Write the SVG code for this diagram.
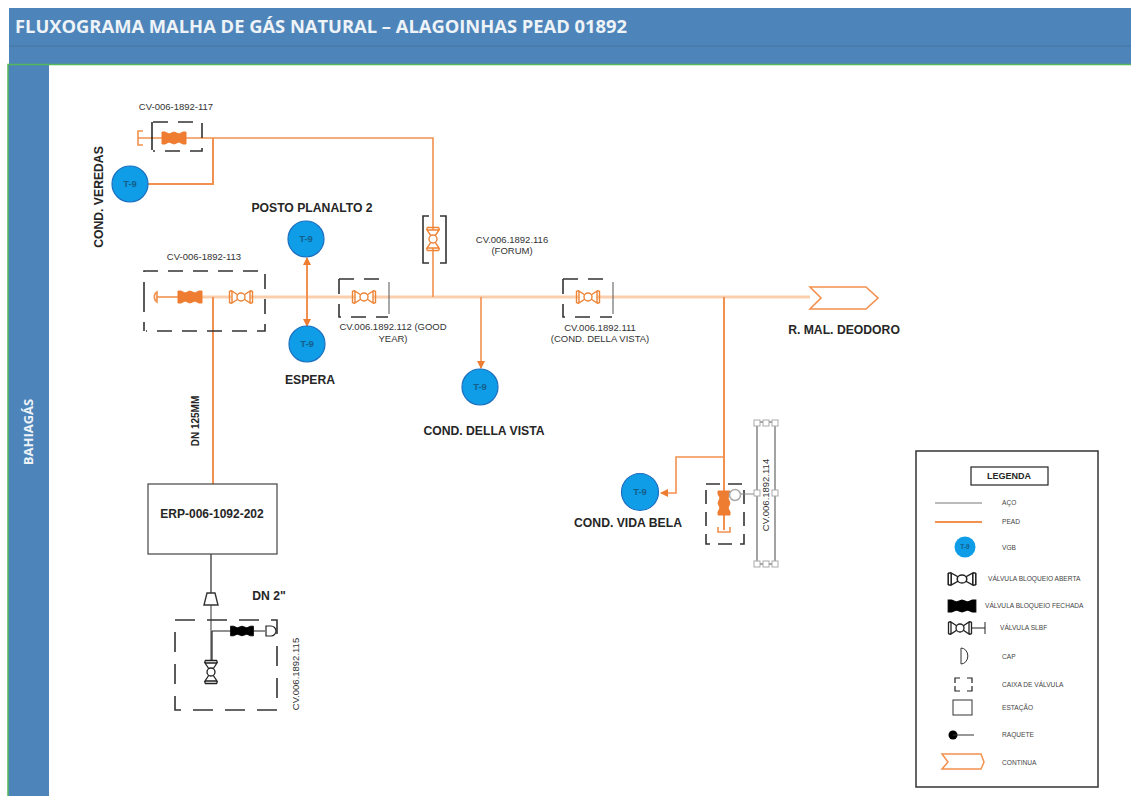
<svg xmlns="http://www.w3.org/2000/svg" xmlns:xlink="http://www.w3.org/1999/xlink" width="1131" height="796" viewBox="0 0 1131 796">
<style>
text{font-family:"Liberation Sans",Arial,sans-serif;fill:#262626}
.t{font-size:12.200px;font-weight:bold;text-anchor:middle}
.s{font-size:9.500px;text-anchor:middle;fill:#333}
.l{font-size:6.600px;fill:#444}
.n{font-size:9.500px;font-weight:bold;text-anchor:middle;fill:#14608a}
.box{fill:none;stroke:#333;stroke-width:1.6;stroke-dasharray:15 10}
.main{fill:none;stroke:#fbcfae;stroke-width:3}
.or{fill:none;stroke:#f2914f;stroke-width:1.6}
.vo{fill:#fff;stroke:#ee8436;stroke-width:1.4}
.vc{fill:#ee7d31;stroke:#ee7d31;stroke-width:1}
.vok{fill:#fff;stroke:#222;stroke-width:1.3}
.vck{fill:#000;stroke:#000;stroke-width:1}
.cir{fill:#0f9de8;stroke:#1c6fc0;stroke-width:1.2}
.h{fill:#fff;stroke:#aaa;stroke-width:1}
</style>
<defs>
<g id="valve"><path d="M-9-6L9 6V-6L-9 6Z"/><path d="M-11.500-6V6M11.500-6V6M-11.500-6H-9M-11.500 6H-9M11.500-6H9M11.500 6H9" fill="none"/><circle r="4"/></g>
<g id="closed"><path d="M-12-6H-9L-5-4L0-6L5-4L9-6H12V6H9L5 4L0 6L-5 4L-9 6H-12Z"/></g>
<marker id="ah" markerWidth="8" markerHeight="8" refX="7" refY="4" orient="auto-start-reverse" markerUnits="userSpaceOnUse"><path d="M0 0L8 4L0 8Z" fill="#ee7d31"/></marker>
</defs>
<g id="frame">
<rect x="9" y="8" width="1122" height="57" fill="#4d85ba"/>
<path d="M9 46H1131" stroke="#44749f" stroke-width="1"/>
<rect x="8" y="65" width="41" height="731" fill="#4d85ba"/>
<path d="M8 796V64.500H1131" fill="none" stroke="#55b75a" stroke-width="1.500"/>
<text x="15" y="33" style="font-size:18px;font-weight:bold;fill:#eef3f8;font-family:'Open Sans',sans-serif" textLength="612" lengthAdjust="spacingAndGlyphs">FLUXOGRAMA MALHA DE GÁS NATURAL – ALAGOINHAS PEAD 01892</text>
<text transform="translate(33 432) rotate(-90)" style="font-size:13px;font-weight:bold;fill:#eef3f8;text-anchor:middle;font-family:'Open Sans',sans-serif">BAHIAGÁS</text>
</g>
<g id="connectors">
<path class="main" d="M190 297H810"/>
<path class="or" d="M156 297H180"/>
<path class="or" d="M138 138H433V297"/>
<path class="or" style="stroke-width:2" d="M148 184H213V138"/>
<path class="or" style="stroke-width:2" d="M213 297V484"/>
<path class="or" style="stroke-width:2" marker-start="url(#ah)" marker-end="url(#ah)" d="M307 258V326"/>
<path class="or" marker-end="url(#ah)" d="M481 297V368"/>
<path class="or" style="stroke-width:2" d="M724 297V530"/>
<path class="or" marker-end="url(#ah)" d="M724 457H676V493H661"/>
<path d="M211 554V604" fill="none" stroke="#555" stroke-width="1.500"/>
<path d="M211 604V660" fill="none" stroke="#999" stroke-width="2"/>
<path d="M212 631H265M212 631V660" fill="none" stroke="#222" stroke-width="1.200"/>
</g>
<g id="cv117">
<path class="box" d="M153 122H202V151H153"/><path d="M152 122V150" stroke="#111" stroke-width="1.400"/>
<path class="or" d="M143 131H138V145H143"/>
<use xlink:href="#closed" href="#closed" class="vc" transform="translate(174 138)"/>
<text class="s" x="176" y="110">CV-006-1892-117</text>
</g>
<g id="cv113">
<path class="box" d="M144 297V271H265V331H146M144 297V331"/>
<path class="or" d="M157 292A6 6 0 0 0 157 302Z"/>
<use xlink:href="#closed" href="#closed" class="vc" transform="translate(190 297)"/>
<use xlink:href="#valve" href="#valve" class="vo" transform="translate(241 297)"/>
<text class="s" x="204" y="260">CV-006-1892-113</text>
</g>
<g id="cv112">
<path class="box" d="M339 279H388M339 279V317H388"/><path d="M389 282V314" stroke="#555" stroke-width="1"/>
<use xlink:href="#valve" href="#valve" class="vo" transform="translate(364 297)"/>
<text class="s" x="393" y="330">CV.006.1892.112 (GOOD</text><text class="s" x="393" y="342">YEAR)</text>
</g>
<g id="cv116">
<path class="box" style="stroke-dasharray:none" d="M429 216H423V263H429M440 216H446V263H440"/>
<use xlink:href="#valve" href="#valve" class="vo" transform="translate(433 239) rotate(90)"/>
<text class="s" x="512" y="243">CV.006.1892.116</text><text class="s" x="512" y="254">(FORUM)</text>
</g>
<g id="cv111">
<path class="box" d="M563 279H612M563 279V317H612"/><path d="M613 282V314" stroke="#555" stroke-width="1"/>
<use xlink:href="#valve" href="#valve" class="vo" transform="translate(588 297)"/>
<text class="s" x="600" y="331">CV.006.1892.111</text><text class="s" x="600" y="342">(COND. DELLA VISTA)</text>
</g>
<g id="cv114">
<path class="box" style="stroke-dasharray:14 8" d="M706 484H744V544H706Z"/>
<use xlink:href="#closed" href="#closed" class="vc" transform="translate(724 503) rotate(90)"/>
<path class="or" d="M718 527V532H730V527"/>
<circle cx="735" cy="495" r="5.500" fill="#fff" stroke="#aaa" stroke-width="1.500"/>
<path d="M741 494H757" stroke="#888" stroke-width="1"/>
<rect x="757" y="422" width="18" height="142" fill="#fff" stroke="#666" stroke-width="1.200"/>
<g class="h"><rect x="754" y="420" width="6" height="6"/><rect x="763" y="420" width="6" height="6"/><rect x="772" y="420" width="6" height="6"/><rect x="754" y="490" width="6" height="6"/><rect x="772" y="490" width="6" height="6"/><rect x="754" y="561" width="6" height="6"/><rect x="763" y="561" width="6" height="6"/><rect x="772" y="561" width="6" height="6"/></g>
<text class="s" transform="translate(769 495) rotate(-90)">CV.006.1892.114</text>
</g>
<g id="erp">
<rect x="148" y="484" width="129" height="70" fill="#fff" stroke="#444" stroke-width="1.200"/>
<text x="212" y="518" class="t" style="font-size:12px">ERP-006-1092-202</text>
<text class="t" style="font-size:10px" transform="translate(199 421) rotate(-90)">DN 125MM</text>
</g>
<g id="cv115">
<path d="M207 593H215L218 605H204Z" fill="#fff" stroke="#333" stroke-width="1.400"/>
<path class="box" d="M175 620H277V710H175Z" style="stroke-dasharray:20 12"/>
<use xlink:href="#closed" href="#closed" class="vck" transform="translate(242 631) scale(.95 .8)"/>
<path d="M266 626H271A5 5 0 0 1 271 636H266Z" fill="#fff" stroke="#222" stroke-width="1.200"/>
<use xlink:href="#valve" href="#valve" class="vok" transform="translate(211 672) rotate(90)"/>
<text class="t" x="269" y="600">DN 2"</text>
<text class="s" transform="translate(299 674) rotate(-90)">CV.006.1892.115</text>
</g>
<g id="cond-veredas"><circle class="cir" cx="130" cy="184" r="18"/><text class="n" x="130" y="187">T-9</text><text class="t" transform="translate(103 197) rotate(-90)">COND. VEREDAS</text></g>
<g id="posto"><circle class="cir" cx="306" cy="239" r="18"/><text class="n" x="306" y="242">T-9</text><text class="t" x="312" y="212">POSTO PLANALTO 2</text></g>
<g id="espera"><circle class="cir" cx="307" cy="344" r="18"/><text class="n" x="307" y="347">T-9</text><text class="t" x="310" y="384">ESPERA</text></g>
<g id="della"><circle class="cir" cx="480" cy="387" r="18"/><text class="n" x="480" y="390">T-9</text><text class="t" x="484" y="435">COND. DELLA VISTA</text></g>
<g id="vida"><circle class="cir" cx="640" cy="492" r="18.500"/><text class="n" x="640" y="495">T-9</text><text class="t" x="628" y="527">COND. VIDA BELA</text></g>
<g id="continua"><path d="M810 287H866L878 298L866 309H810L821 298Z" fill="#fff" stroke="#f2914f" stroke-width="1.600"/><text class="t" x="844" y="334">R. MAL. DEODORO</text></g>
<g id="legenda">
<rect x="916" y="451" width="182" height="336" fill="#fff" stroke="#333" stroke-width="1.500"/>
<rect x="971" y="467" width="77" height="18" fill="#fff" stroke="#222" stroke-width="1.200"/>
<text class="t" style="font-size:9px" x="1009" y="479">LEGENDA</text>
<path d="M935 503H982" stroke="#bbb" stroke-width="2"/><text class="l" x="1002" y="505">AÇO</text>
<path d="M935 522H982" stroke="#f2914f" stroke-width="2"/><text class="l" x="1002" y="524">PEAD</text>
<circle cx="965" cy="547" r="10.500" fill="#0f9de8"/><text class="n" style="font-size:6.500px" x="965" y="549">T-9</text><text class="l" x="1002" y="550">VGB</text>
<use xlink:href="#valve" href="#valve" transform="translate(962 579) scale(1.200 1)" class="vok"/><text class="l" x="988" y="581">VÁLVULA BLOQUEIO ABERTA</text>
<use xlink:href="#closed" href="#closed" transform="translate(962 606) scale(1.150 1)" class="vck"/><text class="l" x="985" y="608">VÁLVULA BLOQUEIO FECHADA</text>
<use xlink:href="#valve" href="#valve" transform="translate(960 628)" class="vok"/><path d="M971 628H985M985 622V634" stroke="#222" fill="none" stroke-width="1"/><text class="l" x="1000" y="630">VÁLVULA SLBF</text>
<path d="M961 648A6 7 0 0 1 961 664Z" fill="#fff" stroke="#333" stroke-width="1"/><text class="l" x="1002" y="659">CAP</text>
<path d="M955 683V678H960M967 678H972V683M955 686V691H960M967 691H972V686" fill="none" stroke="#222" stroke-width="1.200"/><text class="l" x="1002" y="687">CAIXA DE VÁLVULA</text>
<rect x="953" y="700" width="19" height="15" fill="#fff" stroke="#333" stroke-width="1"/><text class="l" x="1002" y="710">ESTAÇÃO</text>
<circle cx="953" cy="735" r="4.500" fill="#000"/><path d="M953 735H974" stroke="#333" stroke-width="1"/><text class="l" x="1002" y="737">RAQUETE</text>
<path d="M942 754H981L984 762L981 769H942L948 762Z" fill="#fff" stroke="#f2914f" stroke-width="1.500"/><text class="l" x="1002" y="765">CONTINUA</text>
</g>
</svg>
